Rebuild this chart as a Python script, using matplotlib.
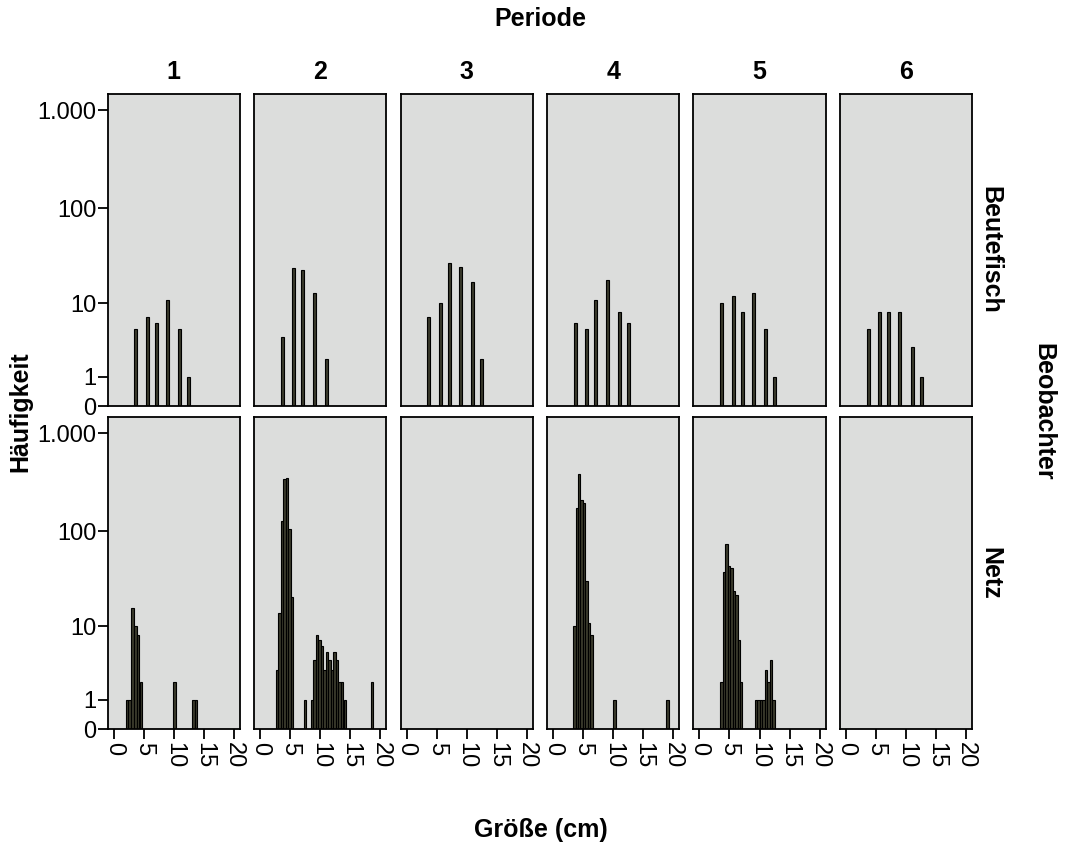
import numpy as np
import matplotlib.pyplot as plt

plt.rcParams['font.family'] = ['Liberation Sans', 'DejaVu Sans']

# Beutefisch (top row): size classes and counts per period
beute_x = [3.7, 5.6, 7.1, 9.0, 11.0, 12.5]
beute_p1 = [5, 7, 6, 11, 5, 1]
beute_p2 = [4, 24, 23, 13, 2, 0]
beute_p3 = [7, 10, 27, 25, 17, 2]
beute_p4 = [6, 5, 11, 18, 8, 6]
beute_p5 = [10, 12, 8, 13, 5, 1]
beute_p6 = [5, 8, 8, 8, 3, 1]

# Netz (bottom row): bar centres (cm) and counts per period
netz_p1_x = [2.2, 2.65, 3.15, 3.6, 4.05, 4.5, 10.1, 13.3, 13.7]
netz_p1_n = [1, 1, 16, 10, 8, 2, 2, 1, 1]
netz_p2_x = [2.79, 3.2, 3.62, 4.03, 4.45, 4.86, 5.28, 7.42,
             8.61, 9.03, 9.45, 9.87, 10.29, 10.71, 11.13, 11.55, 11.97,
             12.39, 12.81, 13.23, 13.65, 14.07, 18.6]
netz_p2_n = [3, 14, 128, 340, 350, 105, 21, 1,
             1, 4, 8, 7, 6, 3, 5, 4, 3,
             5, 4, 2, 2, 1, 2]
netz_p3_x = []
netz_p3_n = []
netz_p4_x = [3.55, 3.96, 4.36, 4.77, 5.17, 5.58, 5.98, 6.39, 10.2, 19.0]
netz_p4_n = [10, 175, 380, 210, 195, 31, 11, 8, 1, 1]
netz_p5_x = [3.67, 4.08, 4.49, 4.9, 5.31, 5.72, 6.13, 6.54, 6.95,
             9.45, 9.86, 10.27, 10.68, 11.09, 11.5, 11.91, 12.32]
netz_p5_n = [2, 38, 75, 44, 42, 24, 22, 7, 2,
             1, 1, 1, 1, 3, 2, 4, 1]
netz_p6_x = []
netz_p6_n = []

perioden = ['1', '2', '3', '4', '5', '6']
beobachter = ['Beutefisch', 'Netz']
y_ticks = [0, 1, 10, 100, 1000]
y_labels = ['0', '1', '10', '100', '1.000']
x_ticks = [0, 5, 10, 15, 20]

top_row = [beute_p1, beute_p2, beute_p3, beute_p4, beute_p5, beute_p6]
bottom_row = [(netz_p1_x, netz_p1_n), (netz_p2_x, netz_p2_n), (netz_p3_x, netz_p3_n),
              (netz_p4_x, netz_p4_n), (netz_p5_x, netz_p5_n), (netz_p6_x, netz_p6_n)]


def fwd(v):
    return np.log10(np.clip(v, -0.999, None) + 1)


def inv(v):
    return 10 ** v - 1


fig, axes = plt.subplots(2, 6, figsize=(10.66, 8.48), dpi=100, sharex=True, sharey=True)
plt.subplots_adjust(left=0.101, right=0.912, bottom=0.14, top=0.889, wspace=0.106, hspace=0.035)

bar_face = '#3a3a2c'
lab_size = 18

for j in range(6):
    ax = axes[0, j]
    xs = [x for x, n in zip(beute_x, top_row[j]) if n > 0]
    ns = [n for n in top_row[j] if n > 0]
    ax.bar(xs, ns, width=0.5, color=bar_face, edgecolor='black', linewidth=0.8)

    ax = axes[1, j]
    bx, bn = bottom_row[j]
    if bx:
        ax.bar(bx, bn, width=0.41, color=bar_face, edgecolor='black', linewidth=0.8)

for ax in axes.flat:
    ax.set_facecolor('#dcdddc')
    ax.set_yscale('function', functions=(fwd, inv))
    ax.set_ylim(0, 1450)
    ax.set_xlim(-1, 21)
    for s in ax.spines.values():
        s.set_linewidth(1.3)
    ax.tick_params(axis='both', direction='out', length=7, width=1.3, labelsize=17, colors='black')
    ax.set_yticks(y_ticks)
    ax.set_yticklabels(y_labels)
    ax.set_xticks(x_ticks)
    ax.tick_params(axis='y', left=False, labelleft=False)
    ax.tick_params(axis='x', bottom=False, labelbottom=False)

for i in range(2):
    axes[i, 0].tick_params(axis='y', left=True, labelleft=True, pad=1)
for j in range(6):
    axes[1, j].tick_params(axis='x', bottom=True, labelbottom=True, labelrotation=-90, pad=2)
    for lab in axes[1, j].get_xticklabels():
        lab.set_va('top')
        lab.set_ha('center')
    axes[0, j].text(0.5, 1.07, perioden[j], transform=axes[0, j].transAxes,
                    ha='center', va='center', fontsize=lab_size, fontweight='bold')

for i, name in enumerate(beobachter):
    axes[i, 5].text(1.14, 0.5, name, transform=axes[i, 5].transAxes, rotation=-90,
                    ha='center', va='center', fontsize=lab_size, fontweight='bold')

fig.text(0.507, 0.978, 'Periode', ha='center', va='center', fontsize=lab_size, fontweight='bold')
fig.text(0.507, 0.021, 'Größe (cm)', ha='center', va='center', fontsize=lab_size, fontweight='bold')
fig.text(0.019, 0.514, 'Häufigkeit', ha='center', va='center', rotation=90, fontsize=lab_size, fontweight='bold')
fig.text(0.979, 0.514, 'Beobachter', ha='center', va='center', rotation=-90, fontsize=lab_size, fontweight='bold')

plt.savefig('out.png', dpi=100)
